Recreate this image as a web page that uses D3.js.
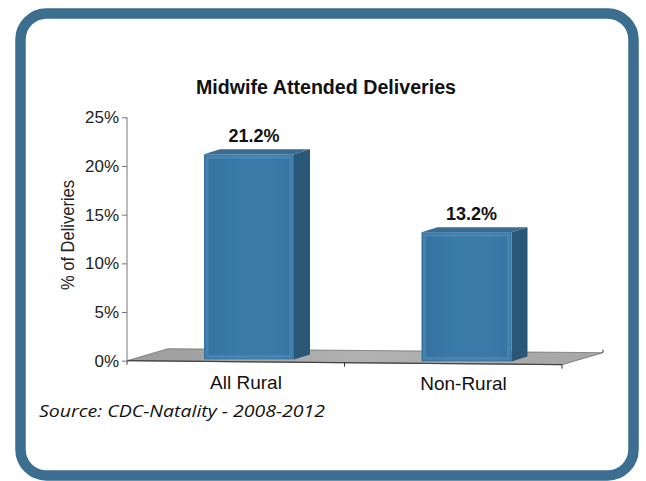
<!DOCTYPE html>
<html><head><meta charset="utf-8">
<script src="https://cdn.jsdelivr.net/npm/d3@7"></script>
<style>body{margin:0;background:#fff}svg{display:block}</style>
</head><body>
<svg id="c" width="646" height="481"></svg>
<script>
const categories = ["All Rural", "Non-Rural"];
const values = [21.2, 13.2];
const valueLabels = ["21.2%", "13.2%"];
const yTicks = [0, 5, 10, 15, 20, 25];
const yTickLabels = ["0%", "5%", "10%", "15%", "20%", "25%"];
const title = "Midwife Attended Deliveries";
const yTitle = "% of Deliveries";
const source = "Source: CDC-Natality - 2008-2012";

const svg = d3.select("#c");
const narrow = "'Liberation Sans Narrow','Arial Narrow','Liberation Sans',sans-serif";

// frame
svg.append("rect").attr("x", 20.5).attr("y", 13.5).attr("width", 613).attr("height", 462)
  .attr("rx", 26).attr("ry", 26).attr("fill", "#fff")
  .attr("stroke", "#3b6e8f").attr("stroke-width", 10.5);

const x0 = 127, x1 = 562, y0 = 360.7, y25 = 117.3;
const x = d3.scaleBand().domain(categories).range([x0, x1]);
const y = d3.scaleLinear().domain([0, 25]).range([y0, y25]);
const slope = 4 / 435; // floor tilt
const depthX = 41, depthY = -12;
const barDX = 16, barDY = -5;

const defs = svg.append("defs");
const fg = defs.append("linearGradient").attr("id", "front").attr("x1", 0).attr("x2", 1).attr("y1", 0).attr("y2", 0);
[["0%", "#3472a0"], ["40%", "#3a7aa9"], ["75%", "#3a79a8"], ["100%", "#3775a3"]].forEach(s => fg.append("stop").attr("offset", s[0]).attr("stop-color", s[1]));
const flg = defs.append("linearGradient").attr("id", "floor").attr("x1", 0).attr("x2", 1).attr("y1", 0).attr("y2", 0);
[["0%", "#9c9c9c"], ["50%", "#b2b2b2"], ["100%", "#a6a6a6"]].forEach(s => flg.append("stop").attr("offset", s[0]).attr("stop-color", s[1]));

// floor
const fy = xx => y0 + (xx - x0) * slope;
svg.append("path")
  .attr("d", `M${x0},${fy(x0)} L${x1},${fy(x1)} L${x1 + depthX},${fy(x1) + depthY} L${x0 + depthX},${fy(x0) + depthY} Z`)
  .attr("fill", "url(#floor)").attr("stroke", "#666").attr("stroke-width", 0.7);
svg.append("line").attr("x1", x0).attr("y1", fy(x0)).attr("x2", x1).attr("y2", fy(x1)).attr("stroke", "#444").attr("stroke-width", 1.2);
// floor ticks
[x0, x0 + x.bandwidth(), x1].forEach(t => {
  svg.append("line").attr("x1", t).attr("x2", t).attr("y1", fy(t)).attr("y2", fy(t) + 4).attr("stroke", "#333");
});
svg.append("line").attr("x1", x1 + depthX).attr("x2", x1 + depthX).attr("y1", fy(x1) + depthY - 3).attr("y2", fy(x1) + depthY).attr("stroke", "#333");

// y axis
const yAxis = d3.axisLeft(y).tickValues(yTicks).tickFormat((d, i) => yTickLabels[i]).tickSize(5).tickPadding(3);
const ga = svg.append("g").attr("transform", `translate(${x0},0)`).call(yAxis);
ga.select(".domain").attr("stroke", "#777").attr("d", `M-0,${y25}V${y0}`);
ga.selectAll(".tick line").attr("stroke", "#777");
ga.selectAll(".tick text").attr("font-family", narrow).attr("font-size", 17).attr("fill", "#222");

// bars
const off = 77, bw = 90;
categories.forEach((c, i) => {
  const bx = x(c) + off;
  const base = fy(bx) - 2;
  const top = y(values[i]);
  const g = svg.append("g");
  // side
  g.append("path").attr("d", `M${bx + bw},${top} L${bx + bw + barDX},${top + barDY} L${bx + bw + barDX},${base + barDY} L${bx + bw},${base} Z`)
    .attr("fill", "#2a5677");
  // top
  g.append("path").attr("d", `M${bx},${top} L${bx + barDX},${top + barDY} L${bx + bw + barDX},${top + barDY} L${bx + bw},${top} Z`)
    .attr("fill", "#3a6b91");
  // front
  g.append("rect").attr("x", bx).attr("y", top).attr("width", bw).attr("height", base - top).attr("fill", "url(#front)");
  g.append("rect").attr("x", bx + 3).attr("y", top + 3).attr("width", bw - 6).attr("height", base - top - 6)
    .attr("fill", "none").attr("stroke", "#5c95bf").attr("stroke-opacity", 0.45).attr("stroke-width", 3);
  // value label
  svg.append("text").attr("x", bx + bw / 2 + 5).attr("y", top - 12).attr("text-anchor", "middle")
    .attr("font-family", narrow).attr("font-weight", "bold").attr("font-size", 18).attr("fill", "#111").text(valueLabels[i]);
  // category label
  svg.append("text").attr("x", bx + bw / 2 - 3).attr("y", 389 + i).attr("text-anchor", "middle")
    .attr("font-family", narrow).attr("font-size", 19).attr("fill", "#111").text(c);
});

// title
svg.append("text").attr("x", 326).attr("y", 94).attr("text-anchor", "middle")
  .attr("font-family", narrow).attr("font-weight", "bold").attr("font-size", 20)
  .attr("textLength", 260).attr("lengthAdjust", "spacingAndGlyphs").attr("fill", "#111").text(title);
// y title
svg.append("text").attr("transform", "translate(74,235) rotate(-90)").attr("text-anchor", "middle")
  .attr("font-family", narrow).attr("font-size", 18)
  .attr("textLength", 110).attr("lengthAdjust", "spacingAndGlyphs").attr("fill", "#222").text(yTitle);
// source
svg.append("text").attr("x", 39).attr("y", 417)
  .attr("font-family", "'Open Sans',sans-serif").attr("font-style", "italic").attr("font-size", 17)
  .attr("textLength", 286).attr("lengthAdjust", "spacingAndGlyphs").attr("fill", "#111").text(source);
</script>
</body></html>
